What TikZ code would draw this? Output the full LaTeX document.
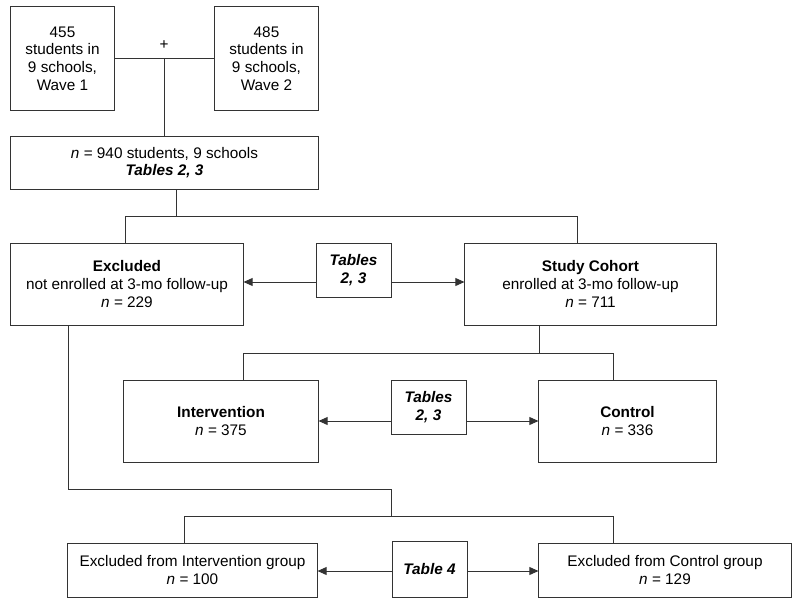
\documentclass[tikz,border=0pt]{standalone}
\usepackage{fontspec}
\setmainfont{Liberation Sans}
\usetikzlibrary{calc, arrows.meta}

\begin{document}
\begin{tikzpicture}[x = 0.025cm, y = -0.025cm,
                    line width = 0.7pt, draw = black!80,
                    > = {Triangle[length = 2.3mm, width = 2mm]},
                    box/.style = {draw, align = center, inner sep = 0pt, font = \fontsize{10.9}{12.6}\selectfont},
                    tab/.style = {box, font = \fontsize{10.9}{12.6}\selectfont\bfseries\itshape}]
                    \useasboundingbox (0, 0) rectangle (800, 605);
                    
                    % recruitment waves
                    \node[box, minimum width = 2.575cm, minimum height = 2.575cm] (wave1) at (62.5, 58.5) {455\\students in\\9 schools,\\Wave 1};
                    \node[box, minimum width = 2.575cm, minimum height = 2.575cm] (wave2) at (266.5, 58.5) {485\\students in\\9 schools,\\Wave 2};
                    \node[font = \fontsize{10.9}{12}\selectfont] (plus) at (164, 45) {+};
                    \node[box, minimum width = 7.675cm, minimum height = 1.325cm] (total) at (164.5, 162.5) {\textit{n} = 940 students, 9 schools\\\textbf{\textit{Tables 2, 3}}};
                    
                    \coordinate (join) at (164, 58);
                    \draw (wave1.east) -- (wave2.west);
                    \draw (join) -- (join |- total.north);
                    
                    % enrolled or not at follow-up
                    \node[box, minimum width = 5.8cm, minimum height = 2.05cm] (excl) at (127, 284) {\textbf{Excluded}\\not enrolled at 3-mo follow-up\\\textit{n} = 229};
                    \node[tab, minimum width = 1.875cm, minimum height = 1.35cm] (tab_a) at (353.5, 270) {Tables\\2, 3};
                    \node[box, minimum width = 6.275cm, minimum height = 2.05cm] (cohort) at (590.5, 284) {\textbf{Study Cohort}\\enrolled at 3-mo follow-up\\\textit{n} = 711};
                    
                    \coordinate (split_a) at (176, 216);
                    \coordinate (split_al) at (125, 216);
                    \coordinate (split_ar) at (577, 216);
                    \coordinate (arr_a) at (0, 282);
                    \draw (split_a |- total.south) -- (split_a);
                    \draw (excl.north -| split_al) -- (split_al) -- (split_ar) -- (split_ar |- cohort.north);
                    \draw[->] (tab_a.west |- arr_a) -- (excl.east |- arr_a);
                    \draw[->] (tab_a.east |- arr_a) -- (cohort.west |- arr_a);
                    
                    % randomised arms
                    \node[box, minimum width = 4.85cm, minimum height = 2.05cm] (interv) at (221, 421) {\textbf{Intervention}\\\textit{n} = 375};
                    \node[tab, minimum width = 1.875cm, minimum height = 1.35cm] (tab_b) at (428.5, 407) {Tables\\2, 3};
                    \node[box, minimum width = 4.425cm, minimum height = 2.05cm] (control) at (627.5, 421) {\textbf{Control}\\\textit{n} = 336};
                    
                    \coordinate (split_b) at (539, 353);
                    \coordinate (split_bl) at (243, 353);
                    \coordinate (split_br) at (613, 353);
                    \coordinate (arr_b) at (0, 421);
                    \draw (cohort.south -| split_b) -- (split_b);
                    \draw (interv.north -| split_bl) -- (split_bl) -- (split_br) -- (split_br |- control.north);
                    \draw[->] (tab_b.west |- arr_b) -- (interv.east |- arr_b);
                    \draw[->] (tab_b.east |- arr_b) -- (control.west |- arr_b);
                    
                    % excluded by group
                    \node[box, minimum width = 6.225cm, minimum height = 1.35cm] (excl_int) at (192.5, 570) {Excluded from Intervention group\\\textit{n} = 100};
                    \node[tab, minimum width = 1.875cm, minimum height = 1.4cm] (tab_c) at (429.5, 569) {Table 4};
                    \node[box, minimum width = 6.3cm, minimum height = 1.35cm] (excl_ctl) at (665, 570) {Excluded from Control group\\\textit{n} = 129};
                    
                    \coordinate (down_a) at (68, 489);
                    \coordinate (down_b) at (391, 489);
                    \coordinate (split_cl) at (184, 516);
                    \coordinate (split_cr) at (613, 516);
                    \coordinate (arr_c) at (0, 571);
                    \draw (excl.south -| down_a) -- (down_a) -- (down_b) -- (down_b |- split_cl);
                    \draw (excl_int.north -| split_cl) -- (split_cl) -- (split_cr) -- (split_cr |- excl_ctl.north);
                    \draw[->] (tab_c.west |- arr_c) -- (excl_int.east |- arr_c);
                    \draw[->] (tab_c.east |- arr_c) -- (excl_ctl.west |- arr_c);
                \end{tikzpicture}
\end{document}
